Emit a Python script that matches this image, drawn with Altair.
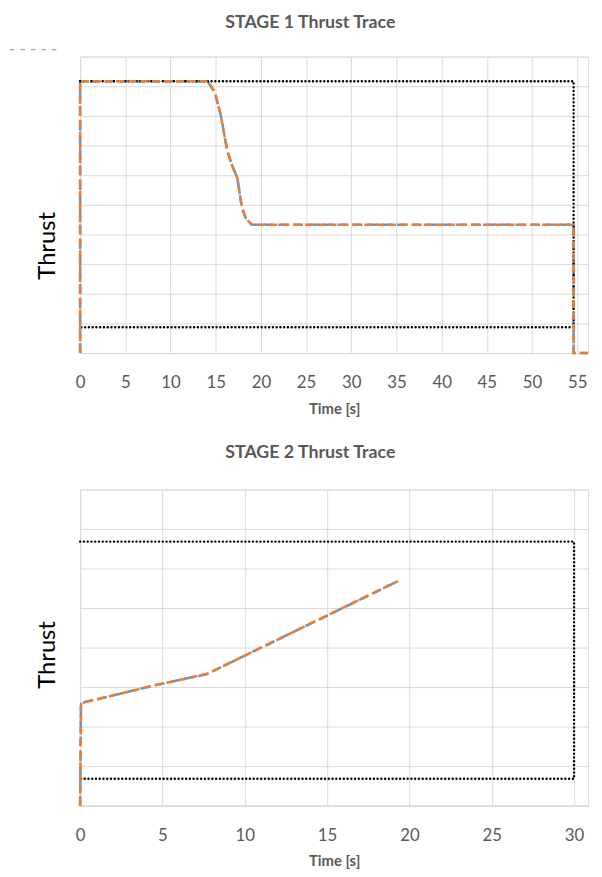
import altair as alt
import pandas as pd

# ---- data ----
s1_time   = [0, 0, 14.1, 14.9, 15.55, 16.3, 16.85, 17.4, 17.9, 18.35, 19.0, 54.6, 54.6, 56.2]
s1_blue   = [0, 9.17, 9.17, 8.8, 8.03, 6.8, 6.3, 5.9, 4.9, 4.53, 4.33, 4.33, 0, 0]
s1_orange = [0, 9.17, 9.17, 8.8, 8.03, 6.8, 6.3, 5.9, 4.9, 4.53, 4.33, 4.33, 0, 0]
s1_env_t  = [0, 54.6, 54.6, 0]
s1_env_v  = [9.17, 9.17, 0.87, 0.87]

s2_time   = [0, 0.05, 0.3, 4.6, 7.7, 19.3]
s2_blue   = [0, 2.57, 2.62, 3.05, 3.33, 5.68]
s2_orange = [0, 2.57, 2.62, 3.05, 3.33, 5.68]
s2_env_t  = [0, 30, 30, 0]
s2_env_v  = [6.68, 6.68, 0.68, 0.68]

s1_xticks = list(range(0, 56, 5))
s1_yticks = list(range(0, 11))
s2_xticks = list(range(0, 31, 5))
s2_yticks = list(range(0, 9))

FONT = "Lato"
GREY = "#595959"
BLUE = "#5B9BD5"
ORANGE = "#ED7D31"


def trace_df(t, v):
    return pd.DataFrame({"t": t, "v": v, "i": list(range(len(t)))})


def stage(title, t, blue, orange, env_t, env_v, xdom, ydom, xticks, yticks,
          width, height, title_x, title_y, title_offset, legend):
    xs = alt.Scale(domain=xdom, nice=False, zero=False)
    ys = alt.Scale(domain=ydom, nice=False, zero=False)
    xax = alt.Axis(values=xticks, grid=True, gridColor="#d9d9d9", ticks=False,
                   domainColor="#d9d9d9", labelFont=FONT, labelFontSize=17,
                   labelColor=GREY, labelPadding=22, title="Time [s]",
                   titleFont=FONT, titleFontSize=15, titleFontWeight="bold",
                   titleColor=GREY, titlePadding=11, labelFlush=False,
                   labelOverlap=False)
    yax = alt.Axis(values=yticks, grid=True, gridColor="#d9d9d9", ticks=False,
                   domain=False, labels=False, title="Thrust", titleFont=FONT,
                   titleFontSize=24, titleFontWeight="normal", titleColor="black",
                   titleX=title_x, titleY=title_y, titleAngle=270,
                   titleBaseline="middle", titleAlign="center")

    def line(df, **kw):
        return alt.Chart(df).mark_line(**kw).encode(
            x=alt.X("t:Q", scale=xs, axis=xax),
            y=alt.Y("v:Q", scale=ys, axis=yax),
            order="i:Q")

    blue_line = line(trace_df(t, blue), color=BLUE, strokeWidth=2.6,
                     strokeDash=[10, 5])
    env = line(trace_df(env_t, env_v), color="black", strokeWidth=2.4,
               strokeDash=[0.1, 3.7], strokeCap="round")
    orange_line = line(trace_df(t, orange), color=ORANGE, strokeWidth=2.6,
                       strokeDash=[8, 4])
    layers = [blue_line, env, orange_line]
    if legend:
        leg = alt.Chart(pd.DataFrame({"s": [legend]})).mark_text(
            align="left", baseline="middle", font=FONT, fontSize=17,
            color="#a6a6a6").encode(
            x=alt.value(-72), y=alt.value(-7), text="s:N")
        layers.append(leg)

    return alt.layer(*layers).properties(
        width=width, height=height,
        title=alt.TitleParams(title, font=FONT, fontSize=18, fontWeight="bold",
                              color=GREY, anchor="middle", frame="group",
                              dx=-24, offset=title_offset))


c1 = stage("STAGE 1 Thrust Trace", s1_time, s1_blue, s1_orange, s1_env_t, s1_env_v,
           [0, 56.2], [0, 10], s1_xticks, s1_yticks, 514, 300, -33, 191, 9,
           "- -  - - -")
c2 = stage("STAGE 2 Thrust Trace", s2_time, s2_blue, s2_orange, s2_env_t, s2_env_v,
           [0, 30.85], [0, 8], s2_xticks, s2_yticks, 514, 320, -33, 167, 28, None)

chart = alt.vconcat(c1, c2, spacing=26).properties(padding=0).configure_view(
    stroke=None).configure(background="white")

chart.save("out.html", embed_options={"renderer": "svg", "actions": False})
